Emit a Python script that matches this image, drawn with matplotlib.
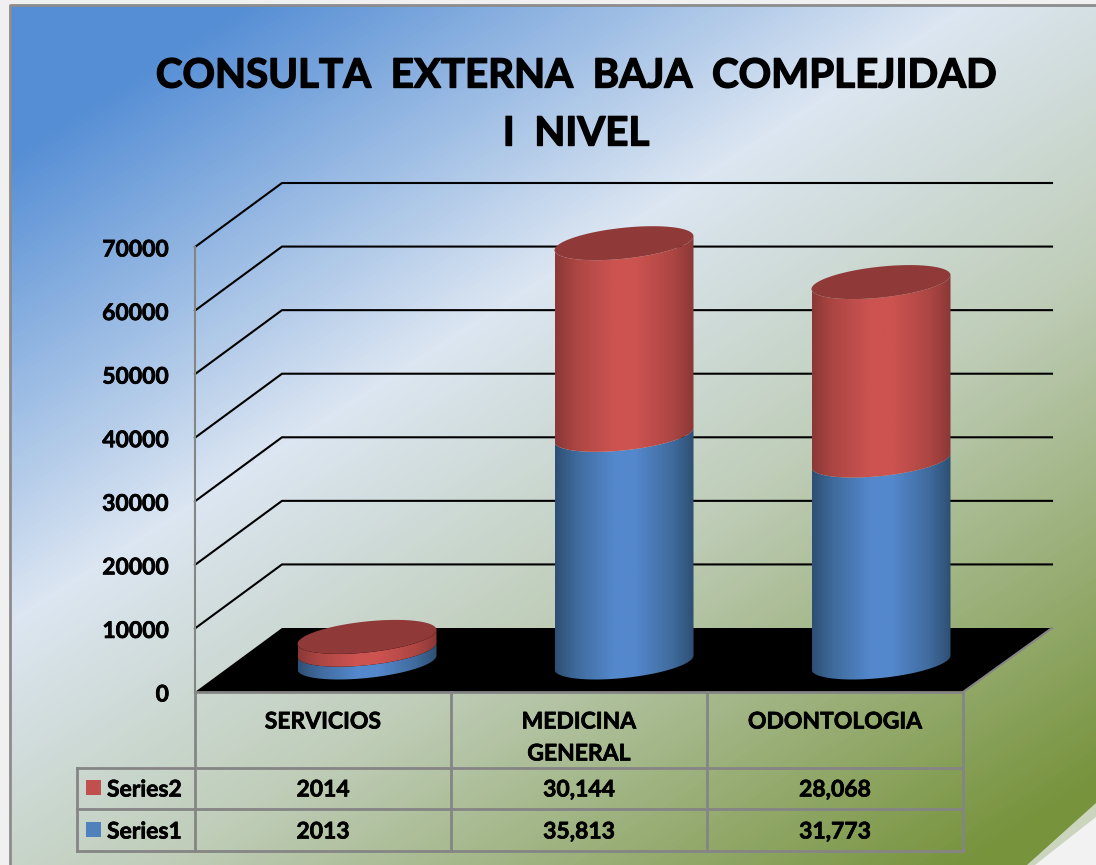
import matplotlib
matplotlib.use("Agg")
import matplotlib.pyplot as plt
import matplotlib.patheffects as pe
import numpy as np
from matplotlib.colors import LinearSegmentedColormap
from matplotlib.patches import PathPatch, Polygon, Rectangle
from matplotlib.path import Path

plt.rcParams['font.family'] = ['Lato', 'DejaVu Sans']

title = "CONSULTA  EXTERNA  BAJA  COMPLEJIDAD\nI  NIVEL"
categories = ["SERVICIOS", "MEDICINA\nGENERAL", "ODONTOLOGIA"]
series1 = [2013, 35813, 31773]
series2 = [2014, 30144, 28068]
series1_labels = ["2013", "35,813", "31,773"]
series2_labels = ["2014", "30,144", "28,068"]
y_ticks = [0, 10000, 20000, 30000, 40000, 50000, 60000, 70000]

W, H = 1096, 865
# reference pixels of the chart box
X0, CAT_W = 195, 256
Y0, PX_PER_VAL = 692, 445 / 70000
DEPTH_X, DEPTH_Y = 87, 64
GREY = '#858585'
BOLD = [pe.withStroke(linewidth=0.5, foreground='black')]
BOLD_BIG = [pe.withStroke(linewidth=1.0, foreground='black')]


# Pixel position to data position
def X(px):
    return (px - X0) / CAT_W


def Y(py):
    return (Y0 - py) / PX_PER_VAL


def label(x, py, s, ha='center', size=16.5, effects=BOLD):
    ax.text(x, Y(py), s, ha=ha, va='center', fontsize=size, fontweight='bold',
            color='black', zorder=5, path_effects=effects)


fig = plt.figure(figsize=(W / 100, H / 100), dpi=100)
ax = fig.add_axes([0, 0, 1, 1])
ax.axis('off')

# background gradient
bg_cmap = LinearSegmentedColormap.from_list('bg', [
    (0.0, '#558ED5'), (0.10, '#558ED5'), (0.40, '#DCE6F2'),
    (0.62, '#BFCDB8'), (0.95, '#77933C'), (1.0, '#77933C')])
xx, yy = np.meshgrid(np.arange(W), np.arange(H))
t = np.clip((0.54 * xx + 0.84 * yy) / 1318, 0, 1)
ax.imshow(t, cmap=bg_cmap, vmin=0, vmax=1, aspect='auto', zorder=0,
          extent=[X(0), X(W), Y(H), Y(0)])

# outer frame and folded corner
ax.add_patch(Rectangle((X(0), Y(H)), X(10) - X(0), Y(0) - Y(H), fc='#F0F0F0', ec='none', zorder=1))
ax.add_patch(Rectangle((X(0), Y(5)), X(W) - X(0), Y(0) - Y(5), fc='#F0F0F0', ec='none', zorder=1))
ax.plot([X(10), X(10), X(W)], [Y(H), Y(5.5), Y(5.5)], color='#8C8C8C', lw=2, zorder=1.5)
ax.add_patch(Polygon([(X(1027), Y(H)), (X(W), Y(803)), (X(W), Y(H))], fc='#CBD5BD', ec='none', zorder=1))
ax.add_patch(Polygon([(X(1035), Y(H)), (X(W), Y(817)), (X(W), Y(H))], fc='#F2F2F2', ec='none', zorder=1.2))

# walls and floor
dx = DEPTH_X / CAT_W
dy = DEPTH_Y / PX_PER_VAL
x_right = len(categories)
ax.add_patch(Polygon([(0, 0), (dx, dy), (X(1052), dy), (x_right, 0)], fc='black', ec='none', zorder=2))
ax.plot([x_right, X(1052)], [0, dy], color=GREY, lw=1.5, zorder=2.1)
for v in y_ticks[1:]:
    ax.plot([0, dx, X(1052)], [v, v + dy, v + dy], color='black', lw=1.5, zorder=2)
ax.plot([0, 0], [0, y_ticks[-1]], color=GREY, lw=1.5, zorder=2.1)

# cylinders
A = 69.5 / CAT_W
B = 15.5 / PX_PER_VAL
SHEAR = 7 / PX_PER_VAL
BAR_STEP = 257 / 256
blue_cmap = LinearSegmentedColormap.from_list('blue', [
    (0.0, '#2E4F73'), (0.15, '#3F6A9C'), (0.42, '#5488CC'), (0.58, '#5488CC'), (0.85, '#3F6A9C'), (1.0, '#2E4F73')])
red_cmap = LinearSegmentedColormap.from_list('red', [
    (0.0, '#8A3836'), (0.15, '#AC4643'), (0.42, '#CC5350'), (0.58, '#CC5350'), (0.85, '#AC4643'), (1.0, '#8A3836')])


def ellipse(cx, cy, a, b):
    ang = np.linspace(0, 2 * np.pi, 121)
    return cx + a * np.cos(ang), cy + b * np.sin(ang) + SHEAR * np.cos(ang)


def side(cx, bottom, top, cmap, zorder):
    ang = np.linspace(np.pi, 2 * np.pi, 61)
    px = cx + A * np.cos(ang)
    low = bottom + B * np.sin(ang) + SHEAR * np.cos(ang)
    high = top + B * np.sin(ang) + SHEAR * np.cos(ang)
    verts = np.vstack([np.column_stack([px, low]), np.column_stack([px[::-1], high[::-1]])])
    patch = PathPatch(Path(np.vstack([verts, verts[0]])), fc='none', ec='none', transform=ax.transData)
    ax.add_patch(patch)
    grad = np.linspace(0, 1, 256).reshape(1, -1)
    im = ax.imshow(grad, cmap=cmap, aspect='auto', zorder=zorder,
                   extent=[cx - A, cx + A, low.min() - B, high.max() + B])
    im.set_clip_path(patch)


for i in range(len(categories)):
    cx = (i + 0.5) * BAR_STEP + dx / 2
    base = dy / 2 - 2.5 / PX_PER_VAL
    seam = base + series1[i]
    top = seam + series2[i]
    side(cx, base, seam, blue_cmap, 3)
    side(cx, seam, top, red_cmap, 3.1)
    ex, ey = ellipse(cx, top, A, B)
    ax.fill(ex, ey, color='#8F3A38', ec='none', zorder=3.2)

# y tick labels
for v in y_ticks:
    label(X(169), Y0 - v * PX_PER_VAL + 3, str(v), ha='right')

# table under the chart
rows_y = [Y(768), Y(809), Y(851)]
ax.plot([0, x_right], [0, 0], color=GREY, lw=2, zorder=4)
for i in range(len(categories) + 1):
    ax.plot([i, i], [0, rows_y[2]], color=GREY, lw=2, zorder=4)
for ry in rows_y:
    ax.plot([X(77), x_right], [ry, ry], color=GREY, lw=2, zorder=4)
ax.plot([X(77), X(77)], [rows_y[0], rows_y[2]], color=GREY, lw=2, zorder=4)

for i, cat in enumerate(categories):
    label(i + 0.5, 722, cat.split("\n")[0])
    if "\n" in cat:
        label(i + 0.5, 754, cat.split("\n")[1])
    label(i + 0.5, 790, series2_labels[i])
    label(i + 0.5, 832, series1_labels[i])

# legend keys inside the table
ax.add_patch(Rectangle((X(86), Y(795)), 15 / CAT_W, 15 / PX_PER_VAL, fc='#C0504D', ec='none', zorder=5))
ax.add_patch(Rectangle((X(86), Y(837)), 15 / CAT_W, 15 / PX_PER_VAL, fc='#4F81BD', ec='none', zorder=5))
label(X(107), 790, "Series2", ha='left')
label(X(107), 832, "Series1", ha='left')

# title
line1, line2 = title.split("\n")
label(X(576), 76, line1, size=29, effects=BOLD_BIG)
label(X(576), 134, line2, size=29, effects=BOLD_BIG)

ax.set_xlim(X(0), X(W))
ax.set_ylim(Y(H), Y(0))

fig.savefig('out.png', dpi=100)
